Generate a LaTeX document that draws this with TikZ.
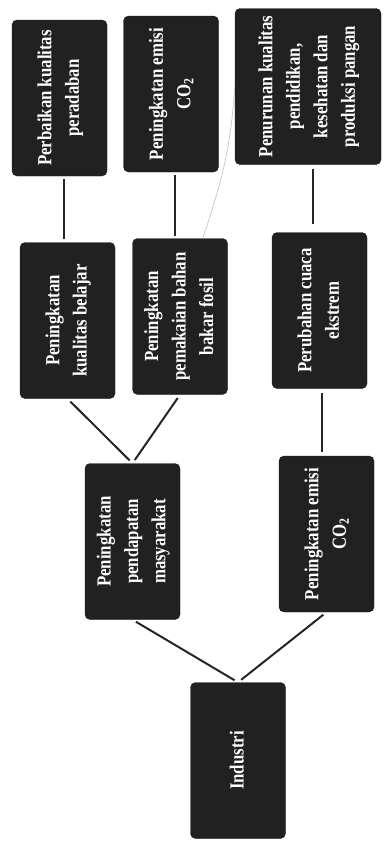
\documentclass[tikz,border=0pt]{standalone}
\usepackage{fontspec}
\setmainfont{Liberation Serif}[FakeStretch=0.84]
\usetikzlibrary{calc, positioning}

\newcommand{\vtext}[1]{\rotatebox{90}{\begin{tabular}{@{}c@{}}#1\end{tabular}}}

\begin{document}
\begin{tikzpicture}[x=1pt, y=-1pt,
    box/.style={draw=black!90, fill=black!87, rounded corners=5pt, text=white,
                minimum width=95pt, minimum height=156pt, inner sep=0pt,
                font=\fontsize{20}{27.5}\selectfont\bfseries},
    wide/.style={box, minimum width=146pt},
    link/.style={line width=2pt, draw=black!85},
    trace/.style={line width=0.6pt, draw=black!25}
  ]
  \useasboundingbox (0,0) rectangle (384,841);

  % top row
  \node[box]  (civil)  at (59.5,98)   {\vtext{Perbaikan kualitas\\peradaban}};
  \node[box]  (emtop)  at (171,94)    {\vtext{Peningkatan emisi\\CO\textsubscript{2}}};
  \node[wide] (loss)   at (308,86.5)  {\vtext{Penurunan kualitas\\pendidikan,\\kesehatan dan\\produksi pangan}};

  % second row
  \node[box]  (learn)  at (67.5,320.5) {\vtext{Peningkatan\\kualitas belajar}};
  \node[box]  (fossil) at (180,316.5)  {\vtext{Peningkatan\\pemakaian bahan\\bakar fosil}};
  \node[box]  (climate) at (319.5,310.5) {\vtext{Perubahan cuaca\\ekstrem}};

  % third row
  \node[box]  (income) at (132.5,541.5) {\vtext{Peningkatan\\pendapatan\\masyarakat}};
  \node[box]  (emlow)  at (326.5,534)   {\vtext{Peningkatan emisi\\CO\textsubscript{2}}};

  % root
  \node[box]  (ind)    at (238,760.5)   {\vtext{Industri}};

  % industri -> both branches
  \draw[link, shorten <=4pt, shorten >=4pt] (ind.north) -- (income.south);
  \draw[link, shorten <=4pt, shorten >=4pt] (ind.north) -- (emlow.south);

  % pendapatan -> learn, fossil
  \draw[link, shorten <=4pt, shorten >=4pt] (income.north) -- (learn.south);
  \draw[link, shorten <=4pt, shorten >=4pt] (income.north) -- (fossil.south);

  % emisi -> cuaca
  \draw[link, shorten <=4pt, shorten >=4pt] ($(emlow.north)+(-4.5,0)$) -- ($(climate.south)+(2.5,0)$);

  % second row -> top row
  \draw[link, shorten <=3pt, shorten >=3pt] ($(learn.north)+(-4,0)$) -- ($(civil.south)+(4,0)$);
  \draw[link, shorten <=2pt, shorten >=3pt] ($(fossil.north)+(-5,0)$) -- ($(emtop.south)+(4,0)$);
  \draw[link, shorten <=8pt, shorten >=4pt] ($(climate.north)+(-6.5,0)$) -- ($(loss.south)+(5,0)$);

  % faint line fossil -> loss
  \draw[trace] ($(fossil.north)+(23,0)$) .. controls (218,190) and (230,160) .. (loss.west);
\end{tikzpicture}
\end{document}
